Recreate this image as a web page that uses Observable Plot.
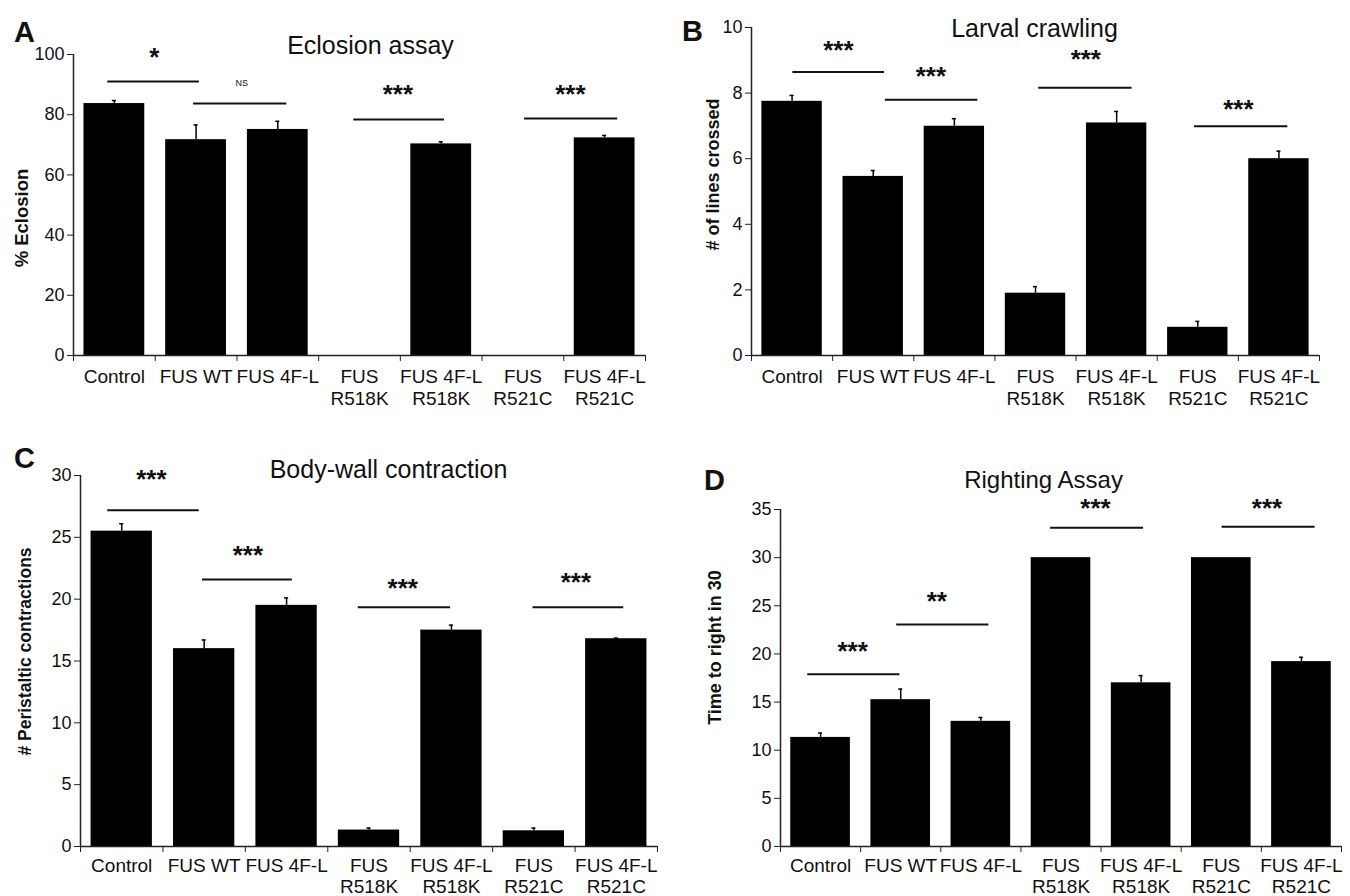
<!DOCTYPE html>
<html><head><meta charset="utf-8">
<script src="https://cdn.jsdelivr.net/npm/d3@7"></script>
<script src="https://cdn.jsdelivr.net/npm/@observablehq/plot@0.6"></script>
<style>
html,body{margin:0;padding:0;background:#fff;}
#fig{position:relative;width:1350px;height:896px;overflow:hidden;font-family:"Liberation Sans",Arial,sans-serif;}
#fig svg{position:absolute;}
</style></head><body><div id="fig"></div>
<script>
// ---- data ----
const categories = ["Control","FUS WT","FUS 4F-L","FUS\nR518K","FUS 4F-L\nR518K","FUS\nR521C","FUS 4F-L\nR521C"];

const eclosionMean = [83.7, 71.7, 75.1, 0, 70.3, 0, 72.3];
const eclosionErr  = [1.0, 4.9, 2.7, 0, 0.7, 0, 0.8];
const eclosionTicks = [0, 20, 40, 60, 80, 100];
const eclosionSig = [
  {x1: 0.42, x2: 1.54, y: 91.0},
  {x1: 1.47, x2: 2.61, y: 83.7},
  {x1: 3.43, x2: 4.54, y: 78.4},
  {x1: 5.52, x2: 6.66, y: 78.7}
];
const eclosionMarks = [
  {x: 0.99, y: 101.3, label: "*"},
  {x: 2.06, y: 90.4, label: "NS"},
  {x: 3.97, y: 88.9, label: "***"},
  {x: 6.08, y: 88.9, label: "***"}
];

const crawlingMean = [7.75, 5.46, 6.99, 1.90, 7.09, 0.86, 6.00];
const crawlingErr  = [0.18, 0.18, 0.23, 0.20, 0.35, 0.18, 0.23];
const crawlingTicks = [0, 2, 4, 6, 8, 10];
const crawlingSig = [
  {x1: 0.51, x2: 1.64, y: 8.64},
  {x1: 1.65, x2: 2.79, y: 7.80},
  {x1: 3.54, x2: 4.69, y: 8.16},
  {x1: 5.46, x2: 6.61, y: 6.99}
];
const crawlingMarks = [
  {x: 1.07, y: 9.52, label: "***"},
  {x: 2.21, y: 8.72, label: "***"},
  {x: 4.12, y: 9.22, label: "***"},
  {x: 6.00, y: 7.72, label: "***"}
];

const contractionMean = [25.5, 16.0, 19.5, 1.33, 17.5, 1.27, 16.8];
const contractionErr  = [0.6, 0.7, 0.6, 0.16, 0.4, 0.22, 0.05];
const contractionTicks = [0, 5, 10, 15, 20, 25, 30];
const contractionSig = [
  {x1: 0.33, x2: 1.44, y: 27.2},
  {x1: 1.48, x2: 2.57, y: 21.6},
  {x1: 3.37, x2: 4.49, y: 19.34},
  {x1: 5.49, x2: 6.59, y: 19.34}
];
const contractionMarks = [
  {x: 0.86, y: 30.2, label: "***"},
  {x: 2.03, y: 24.1, label: "***"},
  {x: 3.91, y: 21.4, label: "***"},
  {x: 6.01, y: 21.9, label: "***"}
];

const rightingMean = [11.33, 15.25, 13.0, 30, 17.0, 30, 19.2];
const rightingErr  = [0.45, 1.1, 0.4, 0, 0.75, 0, 0.45];
const rightingTicks = [0, 5, 10, 15, 20, 25, 30, 35];
const rightingSig = [
  {x1: 0.34, x2: 1.49, y: 17.9},
  {x1: 1.45, x2: 2.60, y: 23.05},
  {x1: 3.37, x2: 4.53, y: 33.1},
  {x1: 5.51, x2: 6.67, y: 33.2}
];
const rightingMarks = [
  {x: 0.90, y: 21.0, label: "***"},
  {x: 1.95, y: 26.2, label: "**"},
  {x: 3.93, y: 35.8, label: "***"},
  {x: 6.07, y: 35.8, label: "***"}
];

// ---- drawing ----
const FONT = '"Liberation Sans", Arial, sans-serif';
function panel(o) {
  const n = categories.length;
  const rows = o.mean.map((v, i) => ({i, v, e: o.err[i]}));
  const bars = rows.filter(d => d.v > 0);
  const errs = rows.filter(d => d.e > 0);
  const labelRows = categories.map((c, i) => ({i, c}));
  const pad = 0.128;
  const svg = Plot.plot({
    width: o.width, height: o.height,
    marginLeft: o.mL, marginRight: o.mR, marginTop: o.mT, marginBottom: o.mB,
    x: {domain: [0, n]},
    y: {domain: [0, o.ticks[o.ticks.length - 1]]},
    style: {fontFamily: FONT, color: "#111", background: "transparent", overflow: "visible"},
    marks: [
      Plot.rectY(bars, {x1: d => d.i + pad, x2: d => d.i + 1 - pad, y1: 0, y2: "v", fill: "#000"}),
      Plot.ruleX(errs, {x: d => d.i + 0.5, y1: "v", y2: d => d.v + d.e, stroke: "#000", strokeWidth: 1.5}),
      Plot.ruleY(errs, {x1: d => d.i + 0.475, x2: d => d.i + 0.525, y: d => d.v + d.e, stroke: "#000", strokeWidth: 1.5}),
      Plot.ruleY([0], {stroke: "#222", strokeWidth: 1.5}),
      Plot.ruleX([0], {stroke: "#222", strokeWidth: 1.5}),
      Plot.axisY({ticks: o.ticks, tickSize: 6, tickPadding: 3, fontSize: 18, label: null, tickFormat: d => String(d), stroke: "#222"}),
      Plot.axisX({ticks: d3.range(n + 1), tickSize: 6, tickFormat: () => "", label: null, stroke: "#222"}),
      Plot.text(labelRows, {x: d => d.i + 0.5, frameAnchor: "bottom", text: "c", lineAnchor: "top",
                            fontSize: 19, lineHeight: o.lh, dy: o.labelDy}),
      Plot.ruleY(o.sig, {x1: "x1", x2: "x2", y: "y", stroke: "#111", strokeWidth: 2}),
      Plot.text(o.marksSig.filter(d => d.label !== "NS"), {x: "x", y: "y", text: "label", fontSize: 26, fontWeight: "bold", dy: 7}),
      Plot.text(o.marksSig.filter(d => d.label === "NS"), {x: "x", y: "y", text: "label", fontSize: 9}),
      Plot.text([o.title], {frameAnchor: "top", text: d => d, fontSize: o.titleSize, dx: o.titleD[0], dy: o.titleD[1]}),
      Plot.text([o.letter], {frameAnchor: "top-left", text: d => d, fontSize: 29, fontWeight: "bold", textAnchor: "middle", dx: o.letterD[0], dy: o.letterD[1]}),
      Plot.text([o.ylabel], {frameAnchor: "left", text: d => d, fontSize: o.ylabelSize, fontWeight: "bold", rotate: -90, textAnchor: "middle", dx: o.ylabelD[0], dy: o.ylabelD[1]})
    ]
  });
  svg.style.left = o.left + "px";
  svg.style.top = o.top + "px";
  document.getElementById("fig").appendChild(svg);
}

panel({left: 0, top: 0, width: 670, height: 440, mL: 73, mR: 25, mT: 54, mB: 85,
  mean: eclosionMean, err: eclosionErr, ticks: eclosionTicks, sig: eclosionSig, marksSig: eclosionMarks,
  title: "Eclosion assay", titleSize: 25, titleD: [11, -18], letter: "A", letterD: [-49, -33],
  ylabel: "% Eclosion", ylabelSize: 18.5, ylabelD: [-51, 13], labelDy: 12, lh: 1.16});

panel({left: 675, top: 0, width: 675, height: 440, mL: 76, mR: 31, mT: 27, mB: 85,
  mean: crawlingMean, err: crawlingErr, ticks: crawlingTicks, sig: crawlingSig, marksSig: crawlingMarks,
  title: "Larval crawling", titleSize: 25, titleD: [-1, -8], letter: "B", letterD: [-59, -7],
  ylabel: "# of lines crossed", ylabelSize: 18, ylabelD: [-38, -17], labelDy: 12, lh: 1.16});

panel({left: 0, top: 420, width: 670, height: 476, mL: 80, mR: 13, mT: 55, mB: 50,
  mean: contractionMean, err: contractionErr, ticks: contractionTicks, sig: contractionSig, marksSig: contractionMarks,
  title: "Body-wall contraction", titleSize: 25, titleD: [19.5, -15], letter: "C", letterD: [-56, -28],
  ylabel: "# Peristaltic contractions", ylabelSize: 17.5, ylabelD: [-55, -9.5], labelDy: 11, lh: 1.1});

panel({left: 675, top: 420, width: 675, height: 476, mL: 105, mR: 9, mT: 89, mB: 50,
  mean: rightingMean, err: rightingErr, ticks: rightingTicks, sig: rightingSig, marksSig: rightingMarks,
  title: "Righting Assay", titleSize: 24, titleD: [-17.5, -39], letter: "D", letterD: [-66, -40],
  ylabel: "Time to right in 30", ylabelSize: 18, ylabelD: [-65, -30.5], labelDy: 11, lh: 1.1});
</script>
</body></html>
